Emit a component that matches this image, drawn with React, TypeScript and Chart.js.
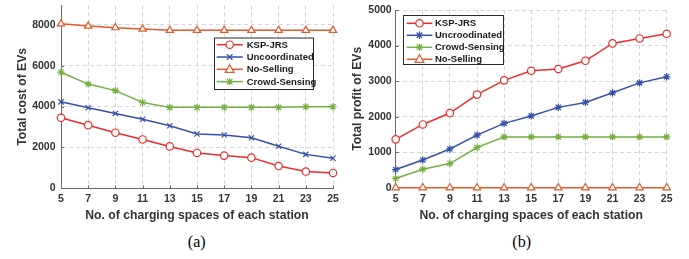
import React, { useEffect, useRef } from 'react';
import { Chart, registerables } from 'chart.js';

Chart.register(...registerables);

// ---------- data ----------
const xLabels = ['5', '7', '9', '11', '13', '15', '17', '19', '21', '23', '25'];

const costKSP = [3450, 3090, 2720, 2390, 2050, 1730, 1600, 1500, 1090, 820, 750];
const costUncoordinated = [4230, 3940, 3660, 3380, 3060, 2660, 2610, 2470, 2060, 1660, 1470];
const costNoSelling = [8050, 7940, 7860, 7790, 7730, 7730, 7730, 7730, 7730, 7730, 7730];
const costCrowd = [5680, 5100, 4780, 4200, 3960, 3960, 3960, 3960, 3960, 3990, 3990];

const profitKSP = [1360, 1780, 2100, 2620, 3020, 3290, 3340, 3570, 4060, 4200, 4330];
const profitUncoordinated = [510, 780, 1090, 1480, 1810, 2020, 2260, 2400, 2670, 2950, 3120];
const profitCrowd = [260, 520, 680, 1130, 1430, 1430, 1430, 1430, 1430, 1430, 1430];
const profitNoSelling = [0, 0, 0, 0, 0, 0, 0, 0, 0, 0, 0];

const costTicks = [0, 2000, 4000, 6000, 8000];
const profitTicks = [0, 1000, 2000, 3000, 4000, 5000];

// ---------- styles ----------
const RED = '#EE2B2B';
const BLUE = '#3552A8';
const ORANGE = '#E05A2A';
const GREEN = '#74B043';
const FONT = '"Liberation Sans", Arial, Helvetica, sans-serif';
const TEXT = '#333333';
const AXIS = '#6a6a6a';
const GRID = '#d6d6d6';

function drawMarker(ctx: CanvasRenderingContext2D, style: string, x: number, y: number, r: number, color: string) {
  ctx.save();
  ctx.strokeStyle = color;
  ctx.fillStyle = '#ffffff';
  ctx.lineWidth = 1.2;
  ctx.setLineDash([]);
  ctx.beginPath();
  if (style === 'circle') {
    ctx.arc(x, y, r, 0, Math.PI * 2);
    ctx.fill();
    ctx.stroke();
  } else if (style === 'triangle') {
    const h = r * 1.5;
    ctx.moveTo(x, y - r * 1.1);
    ctx.lineTo(x + r * 1.05, y + h * 0.5);
    ctx.lineTo(x - r * 1.05, y + h * 0.5);
    ctx.closePath();
    ctx.fill();
    ctx.stroke();
  } else if (style === 'crossRot') {
    const d = r * 0.75;
    ctx.moveTo(x - d, y - d); ctx.lineTo(x + d, y + d);
    ctx.moveTo(x + d, y - d); ctx.lineTo(x - d, y + d);
    ctx.stroke();
  } else if (style === 'star') {
    const d = r * 0.75;
    ctx.moveTo(x - d, y - d); ctx.lineTo(x + d, y + d);
    ctx.moveTo(x + d, y - d); ctx.lineTo(x - d, y + d);
    ctx.moveTo(x, y - r); ctx.lineTo(x, y + r);
    ctx.moveTo(x - r, y); ctx.lineTo(x + r, y);
    ctx.stroke();
  }
  ctx.restore();
}

const decorPlugin = {
  id: 'matlabDecor',
  beforeDatasetsDraw(chart: any) {
    const { ctx, chartArea } = chart;
    const xs = chart.scales.x;
    const ys = chart.scales.y;
    ctx.save();
    ctx.strokeStyle = AXIS;
    ctx.lineWidth = 1;
    xs.ticks.forEach((_t: any, i: number) => {
      const px = Math.round(xs.getPixelForTick(i)) + 0.5;
      ctx.beginPath();
      ctx.moveTo(px, chartArea.bottom);
      ctx.lineTo(px, chartArea.bottom - 3);
      ctx.stroke();
    });
    ys.ticks.forEach((_t: any, i: number) => {
      const py = Math.round(ys.getPixelForTick(i)) + 0.5;
      ctx.beginPath();
      ctx.moveTo(chartArea.left, py);
      ctx.lineTo(chartArea.left + 3, py);
      ctx.stroke();
    });
    ctx.restore();
  },
  afterDatasetsDraw(chart: any, _args: any, opts: any) {
    if (!opts || !opts.box) return;
    const { ctx } = chart;
    const b = opts.box;
    ctx.save();
    ctx.fillStyle = '#ffffff';
    ctx.fillRect(b.x, b.y, b.w, b.h);
    ctx.strokeStyle = '#2a2a2a';
    ctx.lineWidth = 1;
    ctx.strokeRect(b.x + 0.5, b.y + 0.5, b.w, b.h);
    ctx.font = `bold ${opts.fontSize}px ${FONT}`;
    ctx.textBaseline = 'middle';
    ctx.textAlign = 'left';
    chart.data.datasets.forEach((ds: any, i: number) => {
      const yy = b.y + opts.firstRow + i * opts.rowGap;
      ctx.strokeStyle = ds.borderColor;
      ctx.lineWidth = 1.5;
      ctx.beginPath();
      ctx.moveTo(b.x + opts.lineStart, yy);
      ctx.lineTo(b.x + opts.lineEnd, yy);
      ctx.stroke();
      drawMarker(ctx, ds.pointStyle, b.x + (opts.lineStart + opts.lineEnd) / 2, yy, ds.pointRadius, ds.borderColor);
      ctx.fillStyle = '#1a1a1a';
      ctx.fillText(ds.label, b.x + opts.textX, yy + 0.5);
    });
    ctx.restore();
  },
};

function makeDataset(label: string, data: number[], color: string, pointStyle: string, r: number) {
  return {
    label,
    data,
    borderColor: color,
    backgroundColor: color,
    pointStyle,
    pointRadius: r,
    pointBorderColor: color,
    pointBackgroundColor: '#ffffff',
    pointBorderWidth: 1.2,
    borderWidth: 1.5,
    tension: 0,
    clip: false,
  };
}

function makeOptions(cfg: any) {
  return {
    responsive: false,
    animation: false,
    devicePixelRatio: 1,
    events: [],
    layout: { padding: { left: 0, top: cfg.padTop, right: cfg.padRight, bottom: 0 } },
    plugins: {
      legend: { display: false },
      tooltip: { enabled: false },
      matlabDecor: cfg.legend,
    },
    scales: {
      x: {
        type: 'category',
        offset: false,
        grid: { color: GRID, lineWidth: 1, drawTicks: false },
        border: { display: true, color: AXIS, width: 1, dash: [4, 3] },
        ticks: { color: TEXT, font: { family: FONT, size: 10.5, weight: 'bold' }, padding: 5, maxRotation: 0, autoSkip: false },
        title: {
          display: true,
          text: 'No. of charging spaces of each station',
          color: TEXT,
          font: { family: FONT, size: 12.2, weight: 'bold' },
          padding: { top: 0, bottom: cfg.xTitlePad },
        },
        afterFit: (s: any) => {
          s.height = cfg.xHeight;
          s.paddingLeft = 0;
          s.paddingRight = 0;
        },
      },
      y: {
        type: 'linear',
        min: 0,
        max: cfg.yMax,
        grid: { color: GRID, lineWidth: 1, drawTicks: false },
        border: { display: true, color: AXIS, width: 1, dash: [4, 3] },
        ticks: {
          color: TEXT,
          font: { family: FONT, size: 10.5, weight: 'bold' },
          padding: cfg.yTickPad,
          callback: (v: any) => String(v),
        },
        afterBuildTicks: (s: any) => {
          s.ticks = cfg.yTicks.map((v: number) => ({ value: v }));
        },
        title: {
          display: true,
          text: cfg.yTitle,
          color: TEXT,
          font: { family: FONT, size: 12.2, weight: 'bold' },
          padding: { top: cfg.yTitlePad, bottom: 0 },
        },
        afterFit: (s: any) => {
          s.width = cfg.yWidth;
          s.paddingTop = 0;
          s.paddingBottom = 0;
        },
      },
    },
  };
}

function ChartCanvas({ config, width, height, style }: { config: any; width: number; height: number; style: any }) {
  const ref = useRef<HTMLCanvasElement | null>(null);
  useEffect(() => {
    if (!ref.current) return;
    const chart = new Chart(ref.current, config);
    return () => chart.destroy();
  }, []);
  return <canvas ref={ref} width={width} height={height} style={{ position: 'absolute', width, height, ...style }} />;
}

export default function App() {
  const leftConfig = {
    type: 'line',
    data: {
      labels: xLabels,
      datasets: [
        makeDataset('KSP-JRS', costKSP, RED, 'circle', 3.7),
        makeDataset('Uncoordinated', costUncoordinated, BLUE, 'crossRot', 3.7),
        makeDataset('No-Selling', costNoSelling, ORANGE, 'triangle', 4.2),
        makeDataset('Crowd-Sensing', costCrowd, GREEN, 'star', 3.7),
      ],
    },
    options: makeOptions({
      padTop: 0,
      padRight: 12,
      yMax: 8950,
      yTicks: costTicks,
      yTitle: 'Total cost of EVs',
      xHeight: 41.7,
      xTitlePad: 6.7,
      yWidth: 61,
      yTickPad: 5.5,
      yTitlePad: 15.4,
      legend: {
        box: { x: 214, y: 37.5, w: 99, h: 51.5 },
        firstRow: 7.2,
        rowGap: 12.3,
        lineStart: 2.7,
        lineEnd: 28.7,
        textX: 32.7,
        fontSize: 9.5,
      },
    }),
    plugins: [decorPlugin],
  };

  const rightConfig = {
    type: 'line',
    data: {
      labels: xLabels,
      datasets: [
        makeDataset('KSP-JRS', profitKSP, RED, 'circle', 3.7),
        makeDataset('Uncroodinated', profitUncoordinated, BLUE, 'star', 3.7),
        makeDataset('Crowd-Sensing', profitCrowd, GREEN, 'star', 3.7),
        makeDataset('No-Selling', profitNoSelling, ORANGE, 'triangle', 4.2),
      ],
    },
    options: makeOptions({
      padTop: 10,
      padRight: 22.3,
      yMax: 5000,
      yTicks: profitTicks,
      yTitle: 'Total profit of EVs',
      xHeight: 42.3,
      xTitlePad: 6.7,
      yWidth: 50.7,
      yTickPad: 4,
      yTitlePad: 5.2,
      legend: {
        box: { x: 58, y: 15, w: 100, h: 49 },
        firstRow: 8.3,
        rowGap: 12,
        lineStart: 3.7,
        lineEnd: 29.3,
        textX: 32,
        fontSize: 9.5,
      },
    }),
    plugins: [decorPlugin],
  };

  const capStyle: any = {
    position: 'absolute',
    top: 230,
    width: 60,
    textAlign: 'center',
    fontFamily: '"Liberation Serif", "Times New Roman", serif',
    fontSize: 16,
    lineHeight: '24px',
    color: '#000',
  };

  return (
    <div style={{ position: 'fixed', left: 0, top: 0, width: 689, height: 259, background: '#ffffff', overflow: 'hidden' }}>
      <ChartCanvas config={leftConfig} width={345} height={230} style={{ left: 0, top: 0 }} />
      <ChartCanvas config={rightConfig} width={344} height={230} style={{ left: 345, top: 0 }} />
      <div style={{ ...capStyle, left: 196.7 - 30 }}>(a)</div>
      <div style={{ ...capStyle, left: 521.7 - 30 }}>(b)</div>
    </div>
  );
}
